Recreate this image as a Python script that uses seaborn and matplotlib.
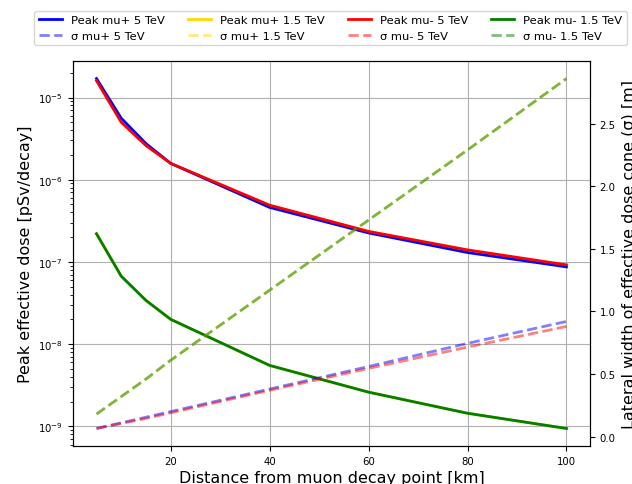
import seaborn as sns
import matplotlib.pyplot as plt

# distance from decay point [km]
distance = [5, 10, 15, 20, 40, 60, 80, 100]

# peak effective dose [pSv/decay]
peak_mup_5 = [1.7e-5, 5.6e-6, 2.75e-6, 1.58e-6, 4.6e-7, 2.25e-7, 1.3e-7, 8.7e-8]
peak_mup_15 = [2.2e-7, 6.7e-8, 3.4e-8, 2.0e-8, 5.5e-9, 2.6e-9, 1.44e-9, 9.4e-10]
peak_mum_5 = [1.6e-5, 5.0e-6, 2.6e-6, 1.58e-6, 4.9e-7, 2.35e-7, 1.4e-7, 9.2e-8]
peak_mum_15 = [2.2e-7, 6.7e-8, 3.4e-8, 2.0e-8, 5.5e-9, 2.6e-9, 1.44e-9, 9.4e-10]

# lateral width sigma [m]
sigma_mup_5 = [0.065, 0.11, 0.155, 0.20, 0.38, 0.56, 0.745, 0.92]
sigma_mup_15 = [0.18, 0.32, 0.46, 0.61, 1.17, 1.73, 2.29, 2.86]
sigma_mum_5 = [0.065, 0.105, 0.145, 0.19, 0.37, 0.545, 0.715, 0.88]
sigma_mum_15 = [0.18, 0.32, 0.46, 0.61, 1.17, 1.73, 2.29, 2.86]

labels = ["mu+ 5 TeV", "mu+ 1.5 TeV", "mu- 5 TeV", "mu- 1.5 TeV"]
colors = ["blue", "gold", "red", "green"]
peaks = [peak_mup_5, peak_mup_15, peak_mum_5, peak_mum_15]
sigmas = [sigma_mup_5, sigma_mup_15, sigma_mum_5, sigma_mum_15]

fig = plt.figure(figsize=(6.32, 4.85), dpi=100)
ax = fig.add_axes([0.1155, 0.0784, 0.818, 0.7936])
ax2 = ax.twinx()

handles = []
for lab, col, pk, sg in zip(labels, colors, peaks, sigmas):
    sns.lineplot(x=distance, y=pk, ax=ax, color=col, lw=2, label="Peak " + lab, legend=False)
    sns.lineplot(x=distance, y=sg, ax=ax2, color=col, lw=2, alpha=0.5,
                 linestyle="--", label="σ " + lab, legend=False)
    handles.append(ax.lines[-1])
    handles.append(ax2.lines[-1])

ax.set_yscale("log")
ax.grid(True, which="major", color="#b0b0b0", lw=0.8)
ax.set_xticks([20, 40, 60, 80, 100])
ax.tick_params(labelsize=7.3)
ax2.tick_params(labelsize=7.3)
ax2.set_yticks([0.0, 0.5, 1.0, 1.5, 2.0, 2.5])

ax.set_xlabel("Distance from muon decay point [km]", fontsize=11.5, labelpad=3)
ax.set_ylabel("Peak effective dose [pSv/decay]", fontsize=11.5)
ax2.set_ylabel("Lateral width of effective dose cone (σ) [m]", fontsize=11.5)

fig.legend(handles=handles, labels=[h.get_label() for h in handles],
           loc="upper center", bbox_to_anchor=(0.523, 0.988), ncol=4, fontsize=8.25)

fig.savefig("out.png", dpi=100)
